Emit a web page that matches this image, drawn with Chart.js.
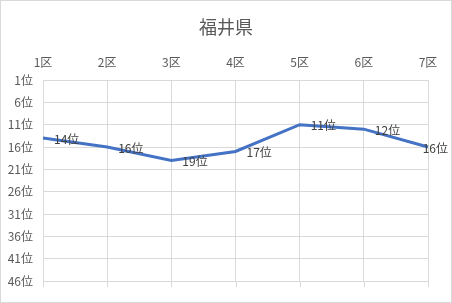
<!DOCTYPE html>
<html>
<head>
<meta charset="utf-8">
<script src="https://cdn.jsdelivr.net/npm/chart.js@4/dist/chart.umd.min.js"></script>
<style>
  html, body { margin: 0; padding: 0; background: #fff; }
  #wrap { position: relative; width: 452px; height: 303px; box-sizing: border-box; border: 1px solid #d9d9d9; }
</style>
</head>
<body>
<div id="wrap"><canvas id="rankChart" width="450" height="301"></canvas></div>
<script>
const districts = ["1区", "2区", "3区", "4区", "5区", "6区", "7区"];
const ranks = [14, 16, 19, 17, 11, 12, 16];
const rankMin = 1;
const rankMax = 46;
const rankStep = 5;

const FONT = "'Noto Sans CJK JP', 'DejaVu Sans', sans-serif";
const TEXT = '#595959';
const GRID = '#d9d9d9';

// draws "NN位" to the right of each point, like Excel's label position "right"
const rankLabels = {
  id: 'rankLabels',
  afterDatasetsDraw(chart) {
    const ctx = chart.ctx;
    const meta = chart.getDatasetMeta(0);
    ctx.save();
    ctx.font = '12px ' + FONT;
    ctx.fillStyle = '#404040';
    ctx.textBaseline = 'middle';
    meta.data.forEach((pt, i) => {
      const text = ranks[i] + '位';
      const w = ctx.measureText(text).width;
      let x = pt.x + 11;
      if (x + w > chart.width - 3) x = chart.width - 3 - w;
      ctx.fillText(text, x, pt.y + 1);
    });
    ctx.restore();
  }
};

// small tick marks under the plot at each category gridline
const bottomTicks = {
  id: 'bottomTicks',
  afterDraw(chart) {
    const ctx = chart.ctx;
    const xs = chart.scales.x;
    const bottom = chart.chartArea.bottom;
    ctx.save();
    ctx.strokeStyle = GRID;
    ctx.lineWidth = 1;
    ctx.beginPath();
    xs.ticks.forEach((t, i) => {
      const x = Math.round(xs.getPixelForTick(i)) + 0.5;
      ctx.moveTo(x, bottom);
      ctx.lineTo(x, bottom + 6);
    });
    ctx.stroke();
    ctx.restore();
  }
};

new Chart(document.getElementById('rankChart').getContext('2d'), {
  type: 'line',
  data: {
    labels: districts,
    datasets: [{
      data: ranks,
      borderColor: '#4472C4',
      borderWidth: 3,
      pointRadius: 0,
      tension: 0,
      fill: false
    }]
  },
  options: {
    responsive: false,
    animation: false,
    layout: { padding: { left: 0, right: 0, top: 15, bottom: 21 } },
    plugins: {
      legend: { display: false },
      tooltip: { enabled: false },
      title: {
        display: true,
        text: '福井県',
        color: TEXT,
        font: { family: FONT, size: 18, weight: 'normal' },
        padding: { top: 0, bottom: 8 }
      }
    },
    scales: {
      x: {
        position: 'top',
        offset: false,
        grid: { color: GRID, drawTicks: false },
        border: { display: false },
        ticks: { color: TEXT, font: { family: FONT, size: 12 }, padding: 10, maxRotation: 0 }
      },
      y: {
        reverse: true,
        min: rankMin,
        max: rankMax,
        afterFit: scale => { scale.width = 42; },
        grid: { color: GRID, drawTicks: false },
        border: { display: false },
        ticks: {
          stepSize: rankStep,
          color: TEXT,
          font: { family: FONT, size: 12 },
          padding: 10,
          callback: v => v + '位'
        }
      },
      yRight: {
        position: 'right',
        min: rankMin,
        max: rankMax,
        afterFit: scale => { scale.width = 23; },
        grid: { display: false },
        border: { display: false },
        ticks: { display: false }
      }
    }
  },
  plugins: [rankLabels, bottomTicks]
});
</script>
</body>
</html>
